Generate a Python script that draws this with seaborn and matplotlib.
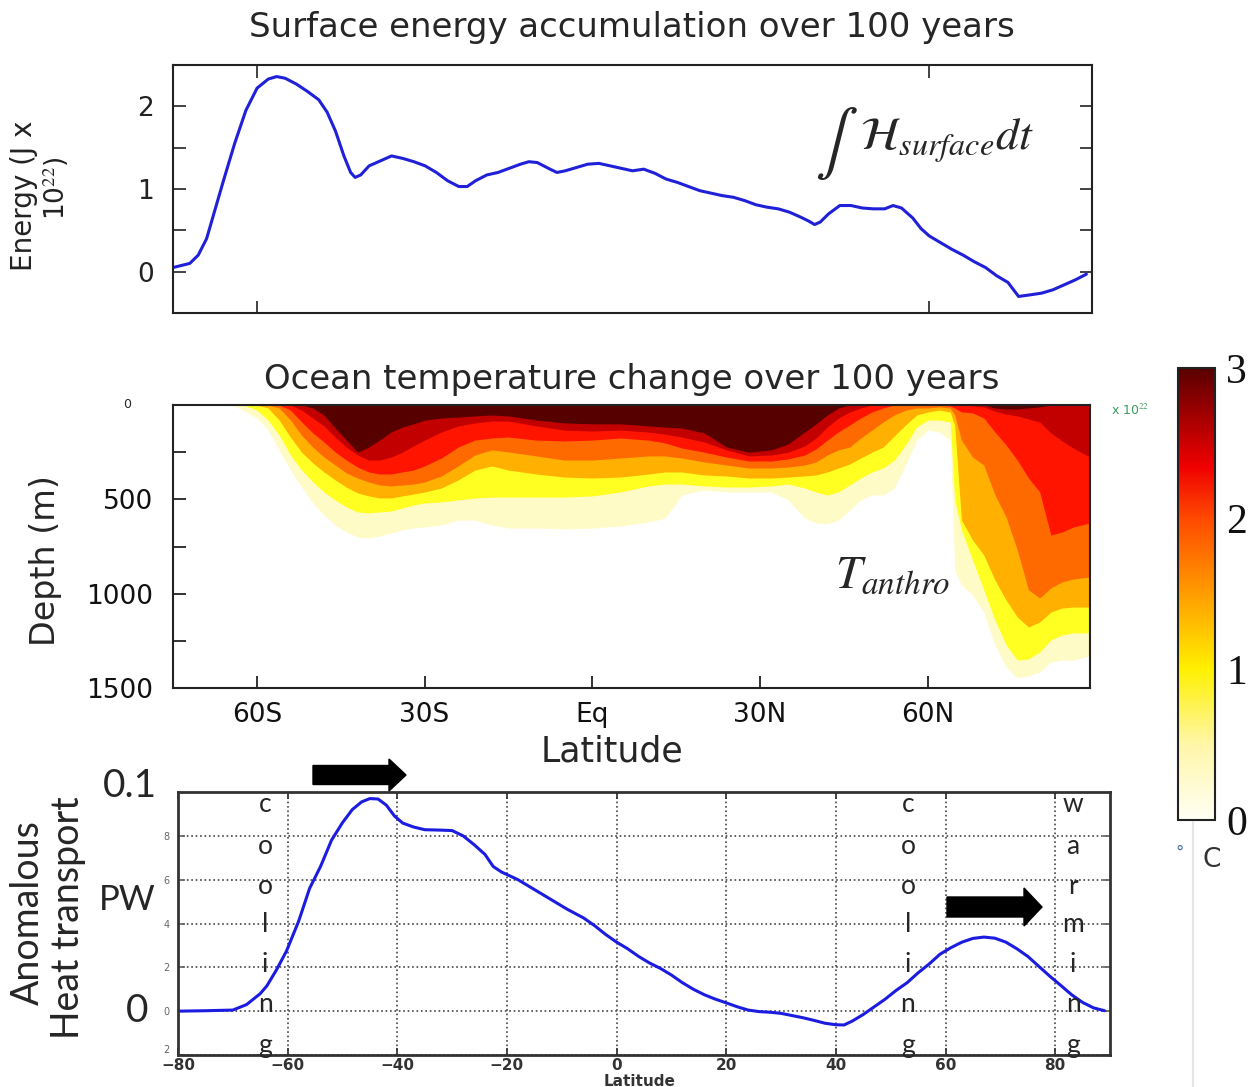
import numpy as np
import pandas as pd
import seaborn as sns
import matplotlib
matplotlib.use("Agg")
import matplotlib.pyplot as plt
from matplotlib.colors import LinearSegmentedColormap, Normalize
from matplotlib.cm import ScalarMappable
from matplotlib.patches import Polygon
from matplotlib.lines import Line2D
from matplotlib.ticker import MultipleLocator, FixedLocator

# ------------------------------------------------------------------ data
# Panel 1: surface energy accumulation (10^22 J) vs latitude
energy_lat = [-75, -72, -70.5, -69, -67.5, -66, -64, -62, -60, -58, -56.5, -55, -53, -51,
              -49, -47.5, -46, -44.5, -43.3, -42.5, -41.5, -40, -38, -36, -34, -32, -30,
              -28, -26, -24, -22.5, -21, -19, -17, -15, -13, -11.5, -10, -8, -6.5, -5, -3,
              -1, 1, 3, 5, 7, 9, 11, 13, 15, 17, 19, 21, 23, 25, 27, 29, 31, 33, 35, 37,
              38.5, 39.5, 40.5, 42, 44, 46, 48, 50, 52, 53.5, 55, 57, 58.5, 60, 62, 64, 66,
              68, 70, 72, 74, 75.9, 78, 80, 82, 84, 86, 88]
energy_val = [0.05, 0.1, 0.2, 0.4, 0.75, 1.1, 1.55, 1.95, 2.22, 2.33, 2.36, 2.34, 2.27, 2.18,
              2.08, 1.93, 1.7, 1.4, 1.2, 1.14, 1.17, 1.28, 1.34, 1.4, 1.37, 1.33, 1.28,
              1.2, 1.1, 1.03, 1.03, 1.1, 1.17, 1.2, 1.25, 1.3, 1.33, 1.32, 1.25, 1.2, 1.22, 1.26,
              1.3, 1.31, 1.28, 1.25, 1.22, 1.24, 1.19, 1.12, 1.08, 1.03, 0.98, 0.95, 0.92, 0.9,
              0.86, 0.81, 0.78, 0.76, 0.72, 0.66, 0.61, 0.57, 0.6, 0.7, 0.8, 0.8, 0.77, 0.76,
              0.76, 0.8, 0.77, 0.65, 0.52, 0.43, 0.35, 0.27, 0.2, 0.12, 0.05, -0.05, -0.13,
              -0.3, -0.28, -0.26, -0.22, -0.16, -0.1, -0.03]

# Panel 2: depth (m) reached by each warming band, per latitude
ocean_lat = [-75, -66, -64, -62, -60, -58, -56, -54, -52, -50, -48, -46, -44, -42, -40, -38,
             -36, -34, -32, -30, -27, -24, -21, -18, -15, -10, -5, 0, 5, 10, 13, 16, 20, 24,
             28, 32, 35, 38, 40, 42, 44, 46, 48, 50, 52, 54, 56, 58, 60, 62, 64, 64.8, 66,
             68, 70, 72, 74, 76, 78, 80, 82, 84, 86, 89]
depth_cream = [0, 0, 5, 37, 69, 133, 240, 345, 435, 520, 583, 636, 673, 700, 705, 694,
               678, 662, 652, 646, 636, 610, 610, 636, 652, 652, 657, 652, 641, 620, 600, 477,
               450, 461, 461, 461, 503, 600, 625, 630, 610, 557, 503, 477, 477, 440, 318, 186,
               133, 143, 186, 875, 954, 1007, 1097, 1272, 1389, 1447, 1436, 1415, 1362, 1352,
               1352, 1330]
depth_yellow = [0, 0, 0, 5, 27, 80, 160, 265, 345, 408, 461, 503, 540, 567, 572, 567,
                562, 546, 530, 519, 514, 503, 493, 488, 488, 488, 488, 482, 461, 429, 419, 419,
                429, 435, 435, 429, 419, 440, 461, 477, 461, 424, 387, 355, 334, 292, 212, 117,
                80, 80, 90, 503, 662, 822, 980, 1140, 1272, 1352, 1346, 1309, 1245, 1219,
                1208, 1208]
depth_amber = [0, 0, 0, 0, 0, 16, 80, 170, 250, 307, 355, 397, 435, 466, 482, 493,
               493, 482, 472, 461, 440, 397, 345, 323, 345, 366, 382, 387, 382, 366, 355, 355,
               371, 376, 387, 387, 382, 376, 371, 355, 334, 313, 281, 250, 223, 164, 106, 53,
               37, 27, 37, 106, 609, 715, 795, 928, 1034, 1124, 1177, 1150, 1097, 1076,
               1071, 1071]
depth_orange = [0, 0, 0, 0, 0, 0, 16, 80, 160, 223, 276, 318, 360, 387, 408, 424,
                429, 424, 419, 408, 376, 323, 265, 238, 249, 270, 292, 292, 281, 270, 270, 281,
                302, 318, 334, 334, 329, 318, 302, 265, 238, 223, 175, 133, 90, 53, 27, 16,
                16, 10, 16, 53, 186, 276, 318, 477, 594, 769, 980, 1023, 969, 938,
                922, 912]
depth_red = [0, 0, 0, 0, 0, 0, 0, 27, 90, 148, 196, 249, 292, 329, 355, 366,
             366, 355, 345, 323, 281, 223, 186, 175, 170, 186, 191, 186, 175, 186, 201, 228,
             250, 276, 297, 297, 286, 265, 233, 186, 143, 106, 69, 37, 16, 0, 0, 0,
             0, 0, 5, 16, 37, 42, 69, 143, 212, 292, 387, 461, 689, 673,
             647, 625]
depth_darkred = [0, 0, 0, 0, 0, 0, 0, 0, 27, 69, 111, 170, 223, 265, 292, 292,
                 276, 250, 217, 186, 143, 111, 95, 85, 85, 111, 133, 138, 133, 143, 154, 170,
                 196, 238, 270, 265, 250, 217, 175, 117, 69, 37, 16, 0, 0, 0, 0, 0,
                 0, 0, 0, 0, 0, 5, 10, 32, 48, 58, 74, 90, 148, 191,
                 228, 276]
depth_maroon = [0, 0, 0, 0, 0, 0, 0, 0, 0, 16, 53, 122, 185, 250, 223, 185,
                143, 117, 100, 80, 69, 64, 58, 53, 58, 80, 95, 100, 100, 111, 117, 122,
                148, 223, 250, 238, 207, 143, 100, 53, 16, 0, 0, 0, 0, 0, 0, 0,
                0, 0, 0, 0, 0, 0, 0, 16, 21, 21, 16, 10, 0, 0,
                0, 0]
band_colors = ['#fffbc6', '#ffff22', '#ffb000', '#ff6a00', '#ff1400', '#c20000', '#560000']

# Colour scale (deg C)
cbar_values = [0.0, 0.5, 1.0, 1.5, 2.0, 2.35, 3.0]
cbar_colors = ['#fffff4', '#fff6a8', '#fff000', '#ff9d00', '#ff4a00', '#f00000', '#5a0000']
cbar_ticks = [0, 1, 2, 3]

# Panel 3: anomalous heat transport (PW)
transport_lat = [-80, -75, -70, -67.5, -65, -63.8, -62, -60.2, -58, -56, -54, -52, -50, -48.2,
                 -46.5, -45, -43.5, -42, -40.5, -39, -37, -35, -32, -30, -28, -26, -24, -22.5,
                 -21, -18, -15, -12, -9, -6, -4, -2, 0, 2, 4, 6, 8, 10, 12, 14, 16, 18, 20, 22,
                 24, 26, 28, 30, 32, 34, 36, 38, 40, 41.5, 43, 45, 47, 49, 51, 53, 55, 57, 59,
                 61, 63, 65, 67, 69, 71, 73, 75, 77, 79, 81, 83, 85, 87, 89]
transport_pw = [0.0, 0.0002, 0.0005, 0.003, 0.008, 0.0115, 0.019, 0.0275, 0.041, 0.056, 0.066,
                0.078, 0.086, 0.092, 0.0955, 0.097, 0.0968, 0.094, 0.089, 0.0858, 0.084, 0.0828,
                0.0826, 0.0824, 0.080, 0.076, 0.0715, 0.066, 0.0635, 0.060, 0.0555, 0.051,
                0.0465, 0.0425, 0.039, 0.035, 0.0315, 0.0285, 0.025, 0.022, 0.0195, 0.0165,
                0.013, 0.010, 0.0075, 0.0055, 0.0038, 0.002, 0.0005, -0.0002, -0.0005, -0.001,
                -0.002, -0.003, -0.0042, -0.0055, -0.0062, -0.0063, -0.0045, -0.0015, 0.002,
                0.0055, 0.0095, 0.013, 0.0175, 0.0215, 0.026, 0.029, 0.0315, 0.0332, 0.0338,
                0.0333, 0.0315, 0.0285, 0.025, 0.0205, 0.016, 0.0118, 0.0075, 0.004, 0.0015,
                0.0002]

mid_xticks = [-60, -30, 0, 30, 60]
mid_xlabels = ['60S', '30S', 'Eq', '30N', '60N']
depth_ticks = [0, 500, 1000, 1500]
depth_labels = ['', '500', '1000', '1500']
ht_xticks = [-80, -60, -40, -20, 0, 20, 40, 60, 80]
ht_yticks = [-0.02, 0.0, 0.02, 0.04, 0.06, 0.08]
ht_ylabels = ['2', '0', '2', '4', '6', '8']
cooling = list('cooling')
warming = list('warming')

# ------------------------------------------------------------------ style
sns.set_theme(style='ticks')
plt.rcParams['font.family'] = ['DejaVu Sans']
plt.rcParams['mathtext.fontset'] = 'stix'
plt.rcParams['axes.edgecolor'] = '#222222'

W, H = 1258, 1087
fig = plt.figure(figsize=(W / 100, H / 100), dpi=100)
fig.patch.set_facecolor('white')


def fx(x):
    return x / W


def fy(y):
    return 1 - y / H


def rect(x0, y0, x1, y1):
    return [x0 / W, 1 - y1 / H, (x1 - x0) / W, (y1 - y0) / H]


def ftext(x, y, s, **kw):
    kw.setdefault('ha', 'center')
    kw.setdefault('va', 'center')
    return fig.text(fx(x), fy(y), s, **kw)


def arrow(x0, x1, yc, shaft, head_w, head_l):
    pts = [(x0, yc - shaft / 2), (x1 - head_l, yc - shaft / 2), (x1 - head_l, yc - head_w / 2),
           (x1, yc), (x1 - head_l, yc + head_w / 2), (x1 - head_l, yc + shaft / 2),
           (x0, yc + shaft / 2)]
    fig.patches.append(Polygon([(fx(a), fy(b)) for a, b in pts], closed=True,
                               transform=fig.transFigure, facecolor='black',
                               edgecolor='black', figure=fig, zorder=10))


# ------------------------------------------------------------------ panel 1
ax1 = fig.add_axes(rect(173, 65, 1092, 313))
sns.lineplot(x=energy_lat, y=energy_val, ax=ax1, color='#2020d8', lw=2.2)
ax1.set_xlim(-75, 89)
ax1.set_ylim(-0.5, 2.5)
ax1.set_yticks([0, 1, 2])
ax1.yaxis.set_minor_locator(FixedLocator([0.5, 1.5]))
ax1.set_xticks([-60, 60])
ax1.set_xticklabels([])
ax1.tick_params(which='both', direction='in', length=9, width=1.2, left=True, right=True,
                top=True, bottom=True, labelsize=19, pad=14, colors='#222222')
for s in ax1.spines.values():
    s.set_linewidth(1.5)
ax1.set_xlabel('')
ax1.set_ylabel('')
ftext(632, 28, 'Surface energy accumulation over 100 years', fontsize=24.5)
ftext(24, 196, 'Energy (J x', rotation=90, fontsize=20, color='#222222')
ftext(56, 188, r'10$^{22}$)', rotation=90, fontsize=19, color='#222222')
ftext(836, 143, r'$\int$', fontsize=46)
fig.text(fx(860), fy(141), r'$\mathcal{H}_{surface}dt$', ha='left', va='center', fontsize=33)

# ------------------------------------------------------------------ panel 2
ax2 = fig.add_axes(rect(173, 405, 1090, 688))
bands = [depth_cream, depth_yellow, depth_amber, depth_orange, depth_red, depth_darkred,
         depth_maroon]
for depths, col in zip(bands, band_colors):
    ax2.fill_between(ocean_lat, 0, depths, color=col, lw=0)
ax2.set_xlim(-75, 89)
ax2.set_ylim(1500, 0)
ax2.set_yticks(depth_ticks)
ax2.set_yticklabels(depth_labels)
ax2.yaxis.set_minor_locator(FixedLocator([250, 750, 1250]))
ax2.set_xticks(mid_xticks)
ax2.set_xticklabels(mid_xlabels)
ax2.tick_params(which='both', direction='in', length=9, width=1.2, left=True, right=True,
                top=True, bottom=True, labelsize=19, colors='#111111')
ax2.tick_params(axis='y', pad=14)
ax2.tick_params(axis='x', pad=10)
for s in ax2.spines.values():
    s.set_linewidth(1.5)
ftext(632, 380, 'Ocean temperature change over 100 years', fontsize=24.5)
ftext(127, 405, '0', fontsize=9)
ftext(46, 561, 'Depth (m)', rotation=90, fontsize=24)
ftext(612, 752, 'Latitude', fontsize=25)
ftext(893, 575, r'$T_{anthro}$', fontsize=34)

# colorbar
cmap = LinearSegmentedColormap.from_list(
    'warm', [(v / 3.0, c) for v, c in zip(cbar_values, cbar_colors)])
cax = fig.add_axes(rect(1178, 368, 1215, 820))
sm = ScalarMappable(norm=Normalize(0, 3), cmap=cmap)
cb = fig.colorbar(sm, cax=cax)
cb.set_ticks(cbar_ticks)
cax.yaxis.set_minor_locator(MultipleLocator(0.5))
cax.tick_params(which='both', direction='in', length=6, width=1.2, left=True, right=True,
                labelsize=30, pad=8, colors='#111111')
for lab in cax.get_yticklabels():
    lab.set_fontfamily('Liberation Serif')
cb.outline.set_linewidth(1.5)
cb.outline.set_edgecolor('#222222')
ftext(1180, 853, '°', fontsize=12, color='#4a6fa5')
ftext(1212, 860, 'C', fontsize=19, color='#333333')
ftext(1130, 410, r'x 10$^{22}$', fontsize=9, color='#3a9a5a')
fig.add_artist(Line2D([fx(1193), fx(1193)], [fy(822), fy(1087)], transform=fig.transFigure,
                      color='#e4e4e4', lw=1.5))

# ------------------------------------------------------------------ panel 3
ax3 = fig.add_axes(rect(178, 792, 1110, 1055))
sns.lineplot(x=transport_lat, y=transport_pw, ax=ax3, color='#1c1ce0', lw=2.2)
ax3.set_xlim(-80, 90)
ax3.set_ylim(-0.02, 0.1)
ax3.set_xticks(ht_xticks)
ax3.set_xticklabels([str(v).replace('-', '\u2212') for v in ht_xticks])
ax3.set_yticks(ht_yticks)
ax3.set_yticklabels(ht_ylabels)
ax3.grid(True, ls=':', color='#444444', lw=1.2)
ax3.tick_params(axis='x', which='both', direction='in', length=5, top=True, bottom=True,
                labelsize=11, pad=2, colors='#333333')
ax3.tick_params(axis='y', which='both', direction='in', length=5, left=True, right=True,
                labelsize=7, pad=6, colors='#666666')
for lab in ax3.get_xticklabels():
    lab.set_fontweight('bold')
ax3.get_yticklabels()[0].set_va('bottom')
for s in ax3.spines.values():
    s.set_linewidth(2)
    s.set_color('#333333')
ax3.set_xlabel('')
ax3.set_ylabel('')
ftext(640, 1081, 'Latitude', fontsize=11, fontweight='bold', color='#333333')

ftext(28, 913, 'Anomalous', rotation=90, fontsize=27, family=['Lato', 'DejaVu Sans'])
ftext(68, 918, 'Heat transport', rotation=90, fontsize=27, family=['Lato', 'DejaVu Sans'])
ftext(127, 900, 'PW', fontsize=25, family=['Lato', 'DejaVu Sans'])
ftext(130, 786, '0.1', fontsize=28, family=['Lato', 'DejaVu Sans'])
ftext(137, 1011, '0', fontsize=28, family=['Lato', 'DejaVu Sans'])

letter_y = [805, 847, 886, 925, 965, 1005, 1045]
for ch, yy in zip(cooling, letter_y):
    ftext(265, yy, ch, fontsize=19, family=['Lato', 'DejaVu Sans'])
    ftext(908, yy, ch, fontsize=19, family=['Lato', 'DejaVu Sans'])
for ch, yy in zip(warming, letter_y):
    ftext(1073, yy, ch, fontsize=19, family=['Lato', 'DejaVu Sans'])

arrow(313, 406, 775, 19, 32, 17)
arrow(947, 1042, 907, 20, 38, 18)

fig.savefig('out.png', dpi=100)
